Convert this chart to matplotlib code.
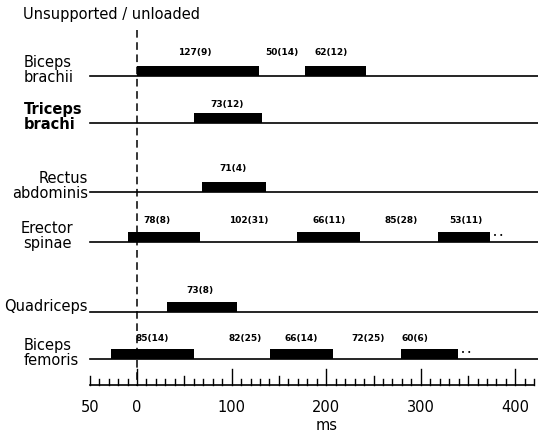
import numpy as np
import matplotlib.pyplot as plt

# muscles (top to bottom) and their burst timings in ms (start, end)
muscles = ['Biceps\nbrachii', 'Triceps\nbrachi', 'Rectus\nabdominis', 'Erector\nspinae',
           'Quadriceps', 'Biceps\nfemoris']
bursts = [
    [(0, 129), (178, 242)],
    [(60, 132)],
    [(69, 136)],
    [(-10, 67), (169, 236), (318, 373)],
    [(32, 106)],
    [(-27, 60), (141, 207), (279, 339)],
]
# numeric labels: (x position in ms, text)
labels = [
    [(61, '127(9)'), (153, '50(14)'), (205, '62(12)')],
    [(95, '73(12)')],
    [(101, '71(4)')],
    [(21, '78(8)'), (118, '102(31)'), (203, '66(11)'), (279, '85(28)'), (348, '53(11)')],
    [(67, '73(8)')],
    [(16, '85(14)'), (114, '82(25)'), (174, '66(14)'), (244, '72(25)'), (294, '60(6)')],
]
continues = [False, False, False, True, False, True]

tick_pos = [-50, 0, 100, 200, 300, 400]
tick_txt = ['50', '0', '100', '200', '300', '400']

# layout (pixel rows of baselines)
base_y = [76, 123, 192, 242, 312, 359]
label_y = [52, 104, 169, 221, 291, 339]
name_x = [24, 24, 88, 47, 88, 24]
name_ha = ['left', 'left', 'right', 'center', 'right', 'left']
px = 0.946  # pixels per ms
x0 = 137    # pixel of 0 ms

fig = plt.figure(figsize=(5.38, 4.33), dpi=100)
ax = fig.add_axes([0, 0, 1, 1])
ax.set_xlim(-x0 / px, (538 - x0) / px)
ax.set_ylim(433, 0)
ax.axis('off')

def px2ms(x):
    return (x - x0) / px

ax.text(px2ms(23), 15, 'Unsupported / unloaded', fontsize=10.5, va='center', ha='left')

for i, name in enumerate(muscles):
    y = base_y[i]
    ax.plot([-50, px2ms(538)], [y, y], color='black', lw=1.2)
    for s, e in bursts[i]:
        ax.fill_between([s, e], y - 10, y, color='black', lw=0)
    for xm, t in labels[i]:
        ax.text(xm, label_y[i], t, fontsize=6.5, ha='center', va='center', fontweight='bold')
    if continues[i]:
        last = bursts[i][-1][1]
        ax.text(last + 3, y - 6, '• •', fontsize=5, ha='left', va='center')
    weight = 'bold' if i == 1 else 'normal'
    ax.text(px2ms(name_x[i]), y - 6, name, fontsize=10.5, ha=name_ha[i], va='center',
            linespacing=0.95, fontweight=weight)

# dashed line at 0
ax.plot([0, 0], [30, 386], color='black', lw=1.1, ls=(0, (5, 3)))

# time axis
ay = 385
ax.plot([-50, 420], [ay, ay], color='black', lw=1.2)
for t in np.arange(-50, 421, 10):
    if t % 100 == 0:
        h = 16
    elif t % 50 == 0:
        h = 9
    else:
        h = 6
    ax.plot([t, t], [ay, ay - h], color='black', lw=1.0)
for t, s in zip(tick_pos, tick_txt):
    ax.text(t, 407, s, fontsize=10.5, ha='center', va='center')
ax.text(px2ms(327), 425, 'ms', fontsize=10.5, ha='center', va='center')

fig.savefig('out.png', dpi=100)
